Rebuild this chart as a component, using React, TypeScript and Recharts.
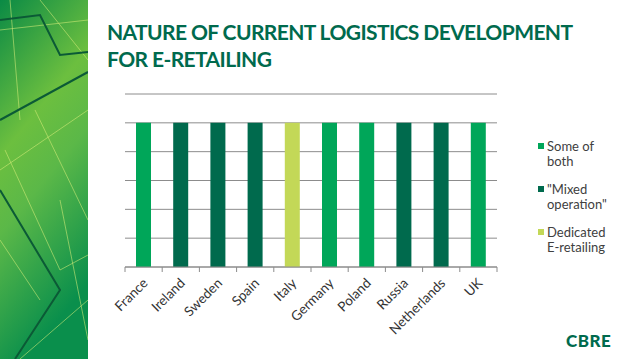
import React from "react";
import { BarChart, Bar, XAxis, YAxis, CartesianGrid } from "recharts";

const countries = [
  "France",
  "Ireland",
  "Sweden",
  "Spain",
  "Italy",
  "Germany",
  "Poland",
  "Russia",
  "Netherlands",
  "UK",
];
const someOfBoth = [1, 0, 0, 0, 0, 1, 1, 0, 0, 1];
const mixedOperation = [0, 1, 1, 1, 0, 0, 0, 1, 1, 0];
const dedicatedRetail = [0, 0, 0, 0, 1, 0, 0, 0, 0, 0];
const yTicks = [0, 0.2, 0.4, 0.6, 0.8, 1, 1.2];

const series = [
  { key: "some", name: "Some of both", color: "#00a659" },
  { key: "mixed", name: "\"Mixed operation\"", color: "#006a4d" },
  { key: "dedicated", name: "Dedicated E-retailing", color: "#c3d857" },
];

const data = countries.map((country, i) => ({
  country,
  some: someOfBoth[i],
  mixed: mixedOperation[i],
  dedicated: dedicatedRetail[i],
}));

const W = 638;
const H = 359;
const X_AXIS_H = 30;
const M = { top: 94, left: 125, right: 141, bottom: 62 };
const BASE = H - M.bottom - X_AXIS_H;
const BAND = (W - M.left - M.right) / countries.length;
const FONT = "Lato, 'Open Sans', sans-serif";

function CountryTick(props: any) {
  const { x, payload, index } = props;
  const tx = x + 5;
  const ty = BASE + 17;
  return (
    <g>
      <line x1={x - BAND / 2} x2={x - BAND / 2} y1={BASE} y2={BASE + 5} stroke="#8c8c8c" />
      {index === countries.length - 1 && (
        <line x1={x + BAND / 2} x2={x + BAND / 2} y1={BASE} y2={BASE + 5} stroke="#8c8c8c" />
      )}
      <text
        x={tx}
        y={ty}
        textAnchor="end"
        fontSize={13.5}
        fill="#333"
        fontFamily={FONT}
        transform={`rotate(-45 ${tx} ${ty})`}
      >
        {payload.value}
      </text>
    </g>
  );
}

function SideLegend() {
  return (
    <div
      style={{
        position: "absolute",
        left: 538,
        top: 139,
        fontFamily: FONT,
        fontSize: 13,
        color: "#404040",
        lineHeight: "15px",
      }}
    >
      {series.map((s) => (
        <div key={s.key} style={{ display: "flex", marginBottom: 13 }}>
          <span
            style={{
              width: 6,
              height: 6,
              background: s.color,
              marginTop: 4,
              marginRight: 3,
              flexShrink: 0,
            }}
          />
          <span style={{ width: 68 }}>{s.name}</span>
        </div>
      ))}
    </div>
  );
}

function SidePanel() {
  return (
    <svg width={88} height={H} style={{ position: "absolute", left: 0, top: 0 }}>
      <defs>
        <linearGradient id="side" x1="0" y1="0" x2="0.3" y2="1">
          <stop offset="0" stopColor="#0a8a45" />
          <stop offset="0.4" stopColor="#6cbf3f" />
          <stop offset="0.6" stopColor="#5bb848" />
          <stop offset="1" stopColor="#0a8f4c" />
        </linearGradient>
      </defs>
      <rect width={88} height={H} fill="url(#side)" />
      <g fill="none" stroke="#d8ef7a" strokeOpacity={0.55} strokeWidth={1}>
        <path d="M0 30 L88 20 M10 0 L20 120 M40 0 L88 60 M0 170 L88 110 M5 150 L60 270 L88 255 M35 110 L88 220 M0 240 L40 300 M20 359 L88 300 M60 200 L88 340" />
      </g>
      <g fill="none" stroke="#0b5a36" strokeWidth={2}>
        <path d="M0 20 L40 15 L60 55 L88 52 M0 120 L88 72 M0 190 L60 290 L15 359" />
      </g>
    </svg>
  );
}

export default function App() {
  return (
    <div style={{ position: "absolute", left: 0, top: 0, width: W, height: H, background: "#fff", overflow: "hidden" }}>
      <SidePanel />
      <div
        style={{
          position: "absolute",
          left: 107,
          top: 18,
          fontFamily: FONT,
          fontWeight: 700,
          fontSize: 21,
          lineHeight: "27px",
          letterSpacing: -0.6,
          color: "#006a4d",
          whiteSpace: "nowrap",
        }}
      >
        NATURE OF CURRENT LOGISTICS DEVELOPMENT
        <br />
        FOR E-RETAILING
      </div>
      <BarChart width={W} height={H} data={data} margin={M} style={{ position: "absolute", left: 0, top: 0 }}>
        <CartesianGrid vertical={false} stroke="#8c8c8c" />
        <YAxis hide domain={[0, 1.2]} ticks={yTicks} />
        <XAxis
          dataKey="country"
          interval={0}
          height={X_AXIS_H}
          tickLine={false}
          axisLine={{ stroke: "#8c8c8c" }}
          tick={<CountryTick />}
        />
        {series.map((s) => (
          <Bar
            key={s.key}
            dataKey={s.key}
            name={s.name}
            stackId="a"
            fill={s.color}
            barSize={15}
            isAnimationActive={false}
          />
        ))}
      </BarChart>
      <SideLegend />
      <div
        style={{
          position: "absolute",
          left: 566,
          top: 330,
          fontFamily: FONT,
          fontWeight: 900,
          fontSize: 17,
          letterSpacing: 0.5,
          color: "#006a4d",
        }}
      >
        CBRE
      </div>
    </div>
  );
}
